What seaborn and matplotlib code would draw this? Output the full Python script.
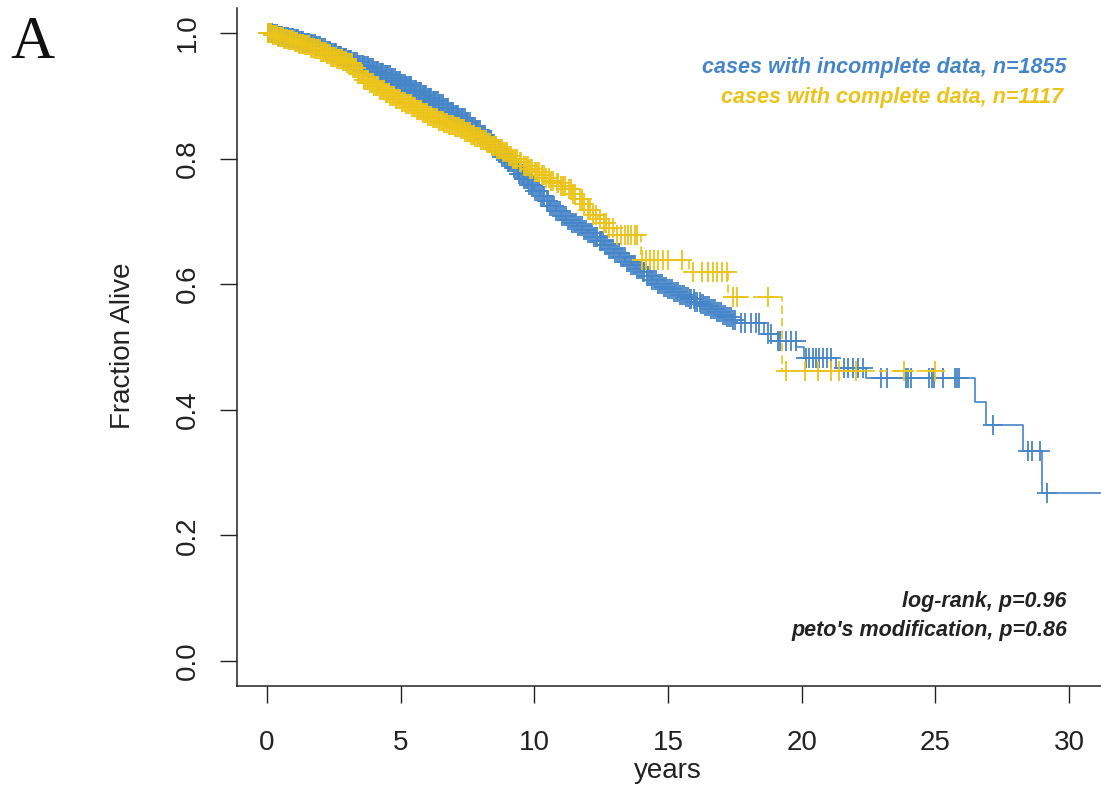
import numpy as np
import pandas as pd
import matplotlib
matplotlib.use("Agg")
import matplotlib.pyplot as plt
import seaborn as sns

# ---- Kaplan-Meier step functions (time in years, survival fraction) ----
incomplete_times = [
    0.0, 0.2, 0.4, 0.6, 0.8, 1.0, 1.2, 1.4, 1.6, 1.8, 2.0, 2.2, 2.4, 2.6, 2.8, 3.0,
    3.2, 3.4, 3.6, 3.8, 4.0, 4.2, 4.4, 4.6, 4.8, 5.0, 5.2, 5.4, 5.6, 5.8, 6.0, 6.2,
    6.4, 6.6, 6.8, 7.0, 7.2, 7.4, 7.6, 7.8, 8.0, 8.2, 8.4, 8.6, 8.8, 9.0, 9.2, 9.4,
    9.6, 9.8, 10.0, 10.2, 10.4, 10.6, 10.8, 11.0, 11.2, 11.4, 11.6, 11.8, 12.0, 12.2,
    12.4, 12.6, 12.8, 13.0, 13.2, 13.4, 13.6, 13.8, 14.0, 14.2, 14.4, 14.6, 14.8,
    15.0, 15.2, 15.4, 15.6, 15.8, 16.0, 16.2, 16.4, 16.6, 16.8, 17.0, 17.2, 17.4,
    17.6, 18.6, 19.1, 19.8, 20.1, 21.3, 22.4, 26.5, 26.9, 28.3, 29.0]
incomplete_surv = [
    1.000, 0.998, 0.996, 0.994, 0.992, 0.990, 0.987, 0.985, 0.982, 0.979, 0.976,
    0.972, 0.968, 0.964, 0.961, 0.957, 0.954, 0.950, 0.947, 0.944, 0.940, 0.937,
    0.933, 0.928, 0.923, 0.919, 0.915, 0.910, 0.906, 0.902, 0.897, 0.892, 0.887,
    0.881, 0.875, 0.869, 0.864, 0.858, 0.851, 0.845, 0.838, 0.829, 0.820, 0.812,
    0.803, 0.794, 0.785, 0.776, 0.768, 0.758, 0.748, 0.740, 0.732, 0.724, 0.716,
    0.709, 0.702, 0.697, 0.692, 0.687, 0.681, 0.675, 0.669, 0.662, 0.656, 0.650,
    0.643, 0.636, 0.630, 0.625, 0.619, 0.613, 0.607, 0.601, 0.596, 0.592, 0.588,
    0.583, 0.579, 0.576, 0.572, 0.569, 0.565, 0.560, 0.556, 0.551, 0.547, 0.543,
    0.539, 0.520, 0.509, 0.500, 0.482, 0.467, 0.451, 0.413, 0.375, 0.334, 0.267]
incomplete_end = 31.3

complete_times = [
    0.0, 0.2, 0.4, 0.6, 0.8, 1.0, 1.2, 1.4, 1.6, 1.8, 2.0, 2.2, 2.4, 2.6, 2.8, 3.0,
    3.2, 3.4, 3.6, 3.8, 4.0, 4.2, 4.4, 4.6, 4.8, 5.0, 5.2, 5.4, 5.6, 5.8, 6.0, 6.2,
    6.4, 6.6, 6.8, 7.0, 7.2, 7.4, 7.6, 7.8, 8.0, 8.2, 8.4, 8.6, 8.8, 9.0, 9.2, 9.4,
    9.6, 9.8, 10.0, 10.2, 10.4, 10.6, 10.8, 11.0, 11.2, 11.4, 11.6, 11.8, 12.0, 12.2,
    12.4, 12.6, 12.8, 13.0, 13.1, 14.0, 15.8, 17.25, 19.25]
complete_surv = [
    1.000, 0.997, 0.994, 0.991, 0.989, 0.986, 0.983, 0.981, 0.977, 0.974, 0.970,
    0.966, 0.962, 0.959, 0.956, 0.952, 0.944, 0.935, 0.925, 0.920, 0.915, 0.910,
    0.905, 0.900, 0.895, 0.891, 0.887, 0.882, 0.878, 0.873, 0.868, 0.864, 0.860,
    0.857, 0.853, 0.850, 0.847, 0.843, 0.838, 0.834, 0.830, 0.825, 0.820, 0.815,
    0.810, 0.805, 0.800, 0.794, 0.789, 0.783, 0.779, 0.774, 0.770, 0.765, 0.761,
    0.757, 0.751, 0.743, 0.735, 0.727, 0.719, 0.711, 0.704, 0.697, 0.690, 0.683,
    0.679, 0.639, 0.620, 0.579, 0.462]
complete_end = 24.98

# ---- censoring times ----
incomplete_censor = [
    0.03, 0.08, 0.12, 0.17, 0.22, 0.26, 0.31, 0.36, 0.41, 0.45, 0.5, 0.55, 0.6, 0.64,
    0.69, 0.74, 0.79, 0.83, 0.88, 0.93, 0.98, 1.02, 1.07, 1.12, 1.17, 1.21, 1.26, 1.31,
    1.36, 1.4, 1.45, 1.5, 1.55, 1.59, 1.64, 1.69, 1.74, 1.78, 1.83, 1.88, 1.93, 1.97,
    2.02, 2.07, 2.12, 2.16, 2.21, 2.26, 2.31, 2.35, 2.4, 2.45, 2.5, 2.54, 2.59, 2.64,
    2.69, 2.73, 2.78, 2.83, 2.88, 2.92, 2.97, 3.02, 3.07, 3.11, 3.16, 3.21, 3.26, 3.3,
    3.35, 3.4, 3.45, 3.49, 3.54, 3.59, 3.64, 3.68, 3.73, 3.78, 3.83, 3.87, 3.92, 3.97,
    4.02, 4.06, 4.11, 4.16, 4.21, 4.25, 4.3, 4.35, 4.4, 4.44, 4.49, 4.54, 4.59, 4.63,
    4.68, 4.73, 4.78, 4.82, 4.87, 4.92, 4.97, 5.01, 5.06, 5.11, 5.16, 5.2, 5.25, 5.3,
    5.35, 5.39, 5.44, 5.49, 5.54, 5.58, 5.63, 5.68, 5.73, 5.77, 5.82, 5.87, 5.92, 5.96,
    6.01, 6.06, 6.11, 6.15, 6.2, 6.25, 6.3, 6.34, 6.39, 6.44, 6.49, 6.53, 6.58, 6.63,
    6.68, 6.72, 6.77, 6.82, 6.87, 6.91, 6.96, 7.01, 7.06, 7.1, 7.15, 7.2, 7.25, 7.29,
    7.34, 7.39, 7.44, 7.48, 7.53, 7.58, 7.63, 7.67, 7.72, 7.77, 7.82, 7.86, 7.91, 7.96,
    8.01, 8.05, 8.1, 8.15, 8.2, 8.24, 8.29, 8.34, 8.39, 8.43, 8.48, 8.53, 8.58, 8.62,
    8.67, 8.72, 8.77, 8.81, 8.86, 8.91, 8.96, 9.0, 9.05, 9.1, 9.15, 9.19, 9.24, 9.29,
    9.34, 9.38, 9.43, 9.48, 9.53, 9.57, 9.62, 9.67, 9.72, 9.76, 9.81, 9.86, 9.91, 9.95,
    10.02, 10.09, 10.16, 10.24, 10.31, 10.38, 10.46, 10.53, 10.6, 10.68, 10.75, 10.82,
    10.9, 10.97, 11.04, 11.12, 11.19, 11.26, 11.34, 11.41, 11.48, 11.56, 11.63, 11.7,
    11.78, 11.85, 11.92, 12.0, 12.07, 12.14, 12.22, 12.29, 12.36, 12.44, 12.51, 12.58,
    12.66, 12.73, 12.8, 12.88, 12.95, 13.02, 13.1, 13.17, 13.24, 13.32, 13.39, 13.46,
    13.54, 13.61, 13.68, 13.76, 13.83, 13.9, 13.98, 14.05, 14.12, 14.2, 14.27, 14.34,
    14.42, 14.49, 14.56, 14.64, 14.71, 14.78, 14.86, 14.93, 15.0, 15.08, 15.15, 15.22,
    15.3, 15.37, 15.44, 15.52, 15.59, 15.66, 15.74, 15.81, 15.88, 15.96, 16.03, 16.1,
    16.18, 16.25, 16.32, 16.4, 16.47, 16.54, 16.62, 16.69, 16.76, 16.84, 16.91, 16.98,
    17.06, 17.13, 17.2, 17.28, 17.35, 17.42, 17.5, 17.72, 17.9, 18.09, 18.28, 18.39,
    18.73, 18.84, 19.1, 19.21, 19.4, 19.59, 19.78, 20.15, 20.26, 20.41, 20.52, 20.64,
    20.79, 20.94, 21.09, 21.57, 21.72, 21.91, 22.1, 22.28, 22.96, 23.18, 23.9, 23.97,
    24.08, 24.76, 24.87, 24.94, 25.28, 25.73, 25.81, 25.88, 27.15, 28.46, 28.61, 28.91,
    29.18]

complete_censor = [
    0.04, 0.1, 0.15, 0.21, 0.26, 0.32, 0.37, 0.43, 0.48, 0.54, 0.59, 0.65, 0.7, 0.76,
    0.81, 0.87, 0.92, 0.98, 1.03, 1.09, 1.14, 1.2, 1.25, 1.31, 1.36, 1.42, 1.47, 1.53,
    1.58, 1.64, 1.69, 1.75, 1.8, 1.86, 1.91, 1.97, 2.02, 2.08, 2.13, 2.19, 2.24, 2.3,
    2.35, 2.41, 2.46, 2.52, 2.57, 2.63, 2.68, 2.74, 2.79, 2.85, 2.9, 2.96, 3.01, 3.07,
    3.12, 3.18, 3.23, 3.29, 3.34, 3.4, 3.45, 3.51, 3.56, 3.62, 3.67, 3.73, 3.78, 3.84,
    3.89, 3.95, 4.0, 4.06, 4.11, 4.17, 4.22, 4.28, 4.33, 4.39, 4.44, 4.5, 4.55, 4.61,
    4.66, 4.72, 4.77, 4.83, 4.88, 4.94, 4.99, 5.05, 5.1, 5.16, 5.21, 5.27, 5.32, 5.38,
    5.43, 5.49, 5.54, 5.6, 5.65, 5.71, 5.76, 5.82, 5.87, 5.93, 5.98, 6.04, 6.09, 6.15,
    6.2, 6.26, 6.31, 6.37, 6.42, 6.48, 6.53, 6.59, 6.64, 6.7, 6.75, 6.81, 6.86, 6.92,
    6.97, 7.03, 7.08, 7.14, 7.19, 7.25, 7.3, 7.36, 7.41, 7.47, 7.52, 7.58, 7.63, 7.69,
    7.74, 7.8, 7.85, 7.91, 7.96, 8.02, 8.07, 8.13, 8.18, 8.24, 8.29, 8.35, 8.4, 8.46,
    8.51, 8.57, 8.62, 8.68, 8.73, 8.79, 8.84, 8.9, 8.97, 9.05, 9.12, 9.2, 9.28, 9.36,
    9.45, 9.52, 9.6, 9.68, 9.77, 9.85, 9.93, 10.02, 10.1, 10.19, 10.27, 10.36, 10.44,
    10.55, 10.62, 10.7, 10.84, 10.9, 11.0, 11.08, 11.15, 11.3, 11.38, 11.45, 11.52,
    11.7, 11.78, 11.85, 12.0, 12.1, 12.2, 12.3, 12.45, 12.6, 12.7, 12.8, 12.95, 13.1,
    13.25, 13.4, 13.5, 13.6, 13.75, 13.85, 14.04, 14.19, 14.34, 14.49, 14.64, 14.83,
    15.02, 15.54, 15.92, 16.29, 16.48, 16.67, 16.85, 17.04, 17.2, 17.45, 17.6, 18.73,
    19.4, 20.11, 20.6, 21.09, 21.39, 22.02, 23.82, 24.98]

group_labels = ["cases with incomplete data, n=1855", "cases with complete data, n=1117"]
stats_labels = ["log-rank, p=0.96", "peto's modification, p=0.86"]
x_ticks = [0, 5, 10, 15, 20, 25, 30]
y_ticks = [0.0, 0.2, 0.4, 0.6, 0.8, 1.0]
y_tick_labels = ["0.0", "0.2", "0.4", "0.6", "0.8", "1.0"]

BLUE = "#4686c8"
YELLOW = "#ecc318"
INK = "#222222"

sns.set_style("ticks")
plt.rcParams["font.family"] = ["Liberation Sans", "DejaVu Sans"]


def km_frame(times, surv, end):
    t = list(times) + [end]
    s = list(surv) + [surv[-1]]
    return pd.DataFrame({"years": t, "surv": s})


def censor_frame(times, surv, censor):
    idx = np.searchsorted(np.asarray(times), np.asarray(censor), side="right") - 1
    return pd.DataFrame({"years": censor, "surv": np.asarray(surv)[idx]})


fig = plt.figure(figsize=(11.01, 7.86), dpi=100)
ax = fig.add_axes([237 / 1101, 1 - 686 / 786, 864 / 1101, 678 / 786])

lw = 1.2
mark_lw = 1.3
mark_s = 220

# incomplete-data group (solid)
sns.lineplot(data=km_frame(incomplete_times, incomplete_surv, incomplete_end),
             x="years", y="surv", drawstyle="steps-post", estimator=None,
             color=BLUE, linewidth=lw, ax=ax, zorder=2)
sns.scatterplot(data=censor_frame(incomplete_times, incomplete_surv, incomplete_censor),
                x="years", y="surv", marker="+", s=mark_s, color=BLUE,
                linewidth=mark_lw, ax=ax, zorder=2)

# complete-data group (dashed)
sns.lineplot(data=km_frame(complete_times, complete_surv, complete_end),
             x="years", y="surv", drawstyle="steps-post", estimator=None,
             color=YELLOW, linewidth=lw, linestyle=(0, (5, 2.5)), ax=ax, zorder=3)
sns.scatterplot(data=censor_frame(complete_times, complete_surv, complete_censor),
                x="years", y="surv", marker="+", s=mark_s, color=YELLOW,
                linewidth=mark_lw, ax=ax, zorder=3)

ax.set_xlim(-1.122, 31.2)
ax.set_ylim(-0.04, 1.04)
ax.set_xticks(x_ticks)
ax.set_xticklabels([str(v) for v in x_ticks])
ax.set_yticks(y_ticks)
ax.set_yticklabels(y_tick_labels, rotation=90, va="center")

for side in ["top", "right"]:
    ax.spines[side].set_visible(False)
for side in ["left", "bottom"]:
    ax.spines[side].set_color(INK)
    ax.spines[side].set_linewidth(1.1)

ax.tick_params(axis="both", direction="out", length=12.2, width=1.0, color=INK,
               labelsize=20, labelcolor=INK)
ax.tick_params(axis="x", pad=19.5)
ax.tick_params(axis="y", pad=14)

ax.set_xlabel("years", fontsize=20, color=INK)
ax.set_ylabel("Fraction Alive", fontsize=20, color=INK)
ax.xaxis.label.set_va("center")
ax.xaxis.set_label_coords((668 - 237) / 864, (686 - 771) / 678)
ax.yaxis.label.set(va="center", ha="center", rotation_mode="default")
ax.yaxis.set_label_coords((123 - 237) / 864, (686 - 346) / 678)

# group annotations (top right) and test statistics (bottom right)
fig.text(1067 / 1101, 1 - 73 / 786, group_labels[0], color=BLUE, fontsize=15.5,
         fontweight="bold", fontstyle="italic", ha="right", va="baseline")
fig.text(1063 / 1101, 1 - 103 / 786, group_labels[1], color=YELLOW, fontsize=15.5,
         fontweight="bold", fontstyle="italic", ha="right", va="baseline")
fig.text(1067 / 1101, 1 - 607 / 786, stats_labels[0], color=INK, fontsize=15.5,
         fontweight="bold", fontstyle="italic", ha="right", va="baseline")
fig.text(1067 / 1101, 1 - 636 / 786, stats_labels[1], color=INK, fontsize=15.5,
         fontweight="bold", fontstyle="italic", ha="right", va="baseline")

# panel letter
fig.text(10 / 1101, 1 - 58 / 786, "A", fontsize=44, family="Liberation Serif",
         color="#111111", ha="left", va="baseline")

fig.savefig("out.png", dpi=100, facecolor="white")
